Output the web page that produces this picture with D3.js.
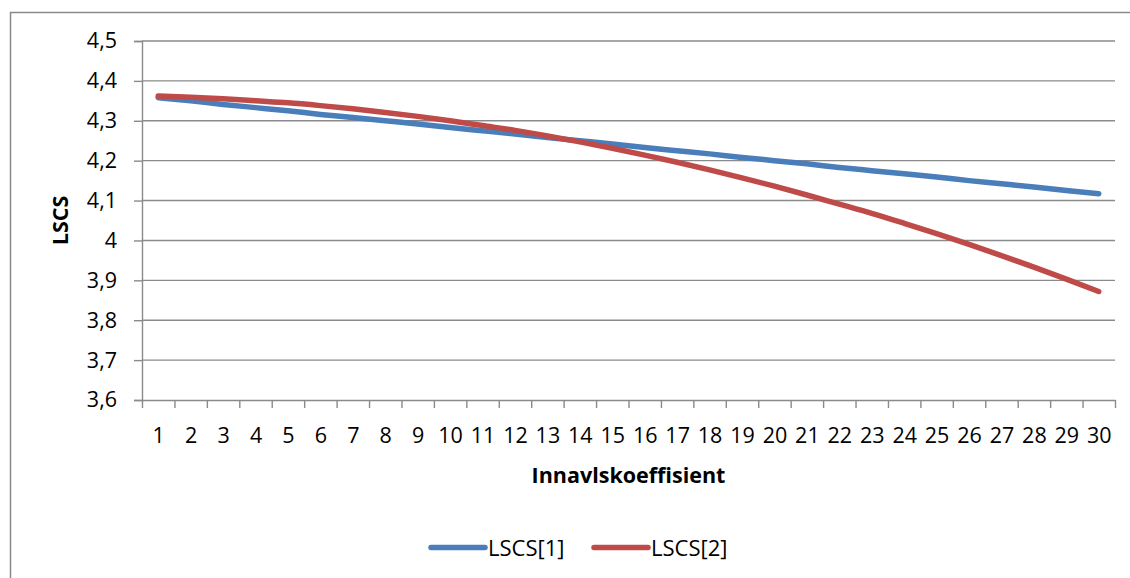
<!DOCTYPE html>
<html>
<head>
<meta charset="utf-8">
<script src="https://cdn.jsdelivr.net/npm/d3@7"></script>
<style>
  html, body { margin: 0; padding: 0; background: #ffffff; }
  svg { display: block; font-family: "Open Sans", "Noto Sans", sans-serif; }
</style>
</head>
<body>
<svg id="chart" width="1130" height="578"></svg>
<script>
// Innavlskoeffisient categories 1..30
const categories = d3.range(1, 31);

// LSCS series values
const lscs1 = [4.358, 4.350, 4.341, 4.333, 4.325, 4.316, 4.308, 4.300, 4.292, 4.283,
               4.275, 4.267, 4.258, 4.250, 4.242, 4.233, 4.225, 4.217, 4.208, 4.200,
               4.192, 4.183, 4.175, 4.167, 4.159, 4.150, 4.142, 4.134, 4.125, 4.117];
const lscs2 = [4.362, 4.359, 4.355, 4.350, 4.345, 4.338, 4.330, 4.321, 4.311, 4.300,
               4.288, 4.276, 4.262, 4.247, 4.231, 4.214, 4.196, 4.177, 4.157, 4.136,
               4.114, 4.091, 4.068, 4.043, 4.017, 3.990, 3.962, 3.933, 3.903, 3.872];

const seriesNames = ["LSCS[1]", "LSCS[2]"];
const seriesColors = ["#4a7ebb", "#be4b48"];

// Y axis ticks and their labels (comma decimal)
const yTicks = [3.6, 3.7, 3.8, 3.9, 4.0, 4.1, 4.2, 4.3, 4.4, 4.5];
const yTickLabels = ["3,6", "3,7", "3,8", "3,9", "4", "4,1", "4,2", "4,3", "4,4", "4,5"];

const xTitle = "Innavlskoeffisient";
const yTitle = "LSCS";

const svg = d3.select("#chart");
const plot = { left: 142, right: 1115, top: 41, bottom: 400 };
const gridColor = "#8a8a8a";

// outer chart frame (extends past the visible area on the right and bottom)
svg.append("rect")
  .attr("x", 10.5).attr("y", 12.5)
  .attr("width", 1200).attr("height", 700)
  .attr("fill", "none")
  .attr("stroke", gridColor)
  .attr("stroke-width", 1.5);

const x = d3.scaleLinear()
  .domain([0.5, categories.length + 0.5])
  .range([plot.left, plot.right]);
const y = d3.scaleLinear()
  .domain([yTicks[0], yTicks[yTicks.length - 1]])
  .range([plot.bottom, plot.top]);

// horizontal gridlines
svg.append("g")
  .selectAll("line")
  .data(yTicks.slice(1))
  .join("line")
  .attr("x1", plot.left).attr("x2", plot.right)
  .attr("y1", d => y(d)).attr("y2", d => y(d))
  .attr("stroke", gridColor)
  .attr("stroke-width", 1.4);

// y axis
const yAxis = svg.append("g")
  .attr("transform", `translate(${plot.left},0)`)
  .call(d3.axisLeft(y)
    .tickValues(yTicks)
    .tickSize(8)
    .tickPadding(17)
    .tickFormat((d, i) => yTickLabels[i]));
yAxis.select(".domain").attr("stroke", gridColor).attr("stroke-width", 1.4);
yAxis.selectAll(".tick line").attr("stroke", gridColor).attr("stroke-width", 1.4);
yAxis.selectAll(".tick text")
  .attr("font-size", 21.5)
  .attr("fill", "#000")
  .attr("font-family", "'Open Sans', sans-serif");

// x axis: tick marks between categories
const boundaries = d3.range(0.5, categories.length + 1, 1);
const xTicks = svg.append("g")
  .attr("transform", `translate(0,${plot.bottom})`)
  .call(d3.axisBottom(x)
    .tickValues(boundaries)
    .tickSize(8)
    .tickSizeOuter(0)
    .tickFormat(""));
xTicks.select(".domain").attr("stroke", gridColor).attr("stroke-width", 1.4);
xTicks.selectAll(".tick line").attr("stroke", gridColor).attr("stroke-width", 1.4);

// x axis: category labels
const xLabels = svg.append("g")
  .attr("transform", `translate(0,${plot.bottom})`)
  .call(d3.axisBottom(x)
    .tickValues(categories)
    .tickSize(0)
    .tickPadding(28)
    .tickFormat(d3.format("d")));
xLabels.select(".domain").remove();
xLabels.selectAll(".tick text")
  .attr("font-size", 21.5)
  .attr("fill", "#000")
  .attr("font-family", "'Open Sans', sans-serif");

// axis titles
svg.append("text")
  .attr("x", (plot.left + plot.right) / 2)
  .attr("y", 483)
  .attr("text-anchor", "middle")
  .attr("font-size", 21.5)
  .attr("font-weight", "bold")
  .text(xTitle);

svg.append("text")
  .attr("transform", `translate(68,${(plot.top + plot.bottom) / 2}) rotate(-90)`)
  .attr("text-anchor", "middle")
  .attr("font-size", 21.5)
  .attr("font-weight", "bold")
  .text(yTitle);

// series lines
const line = d3.line()
  .x((d, i) => x(categories[i]))
  .y(d => y(d))
  .curve(d3.curveMonotoneX);

[lscs1, lscs2].forEach((values, k) => {
  svg.append("path")
    .datum(values)
    .attr("d", line)
    .attr("fill", "none")
    .attr("stroke", seriesColors[k])
    .attr("stroke-width", 5.5)
    .attr("stroke-linecap", "round")
    .attr("stroke-linejoin", "round");
});

// legend
const legendX = [431, 594];
const legend = svg.append("g");
seriesNames.forEach((name, k) => {
  legend.append("line")
    .attr("x1", legendX[k]).attr("x2", legendX[k] + 54)
    .attr("y1", 547.5).attr("y2", 547.5)
    .attr("stroke", seriesColors[k])
    .attr("stroke-width", 5.5)
    .attr("stroke-linecap", "round");
  legend.append("text")
    .attr("x", legendX[k] + 57)
    .attr("y", 555.5)
    .attr("font-size", 22)
    .attr("fill", "#000")
    .text(name);
});
</script>
</body>
</html>
